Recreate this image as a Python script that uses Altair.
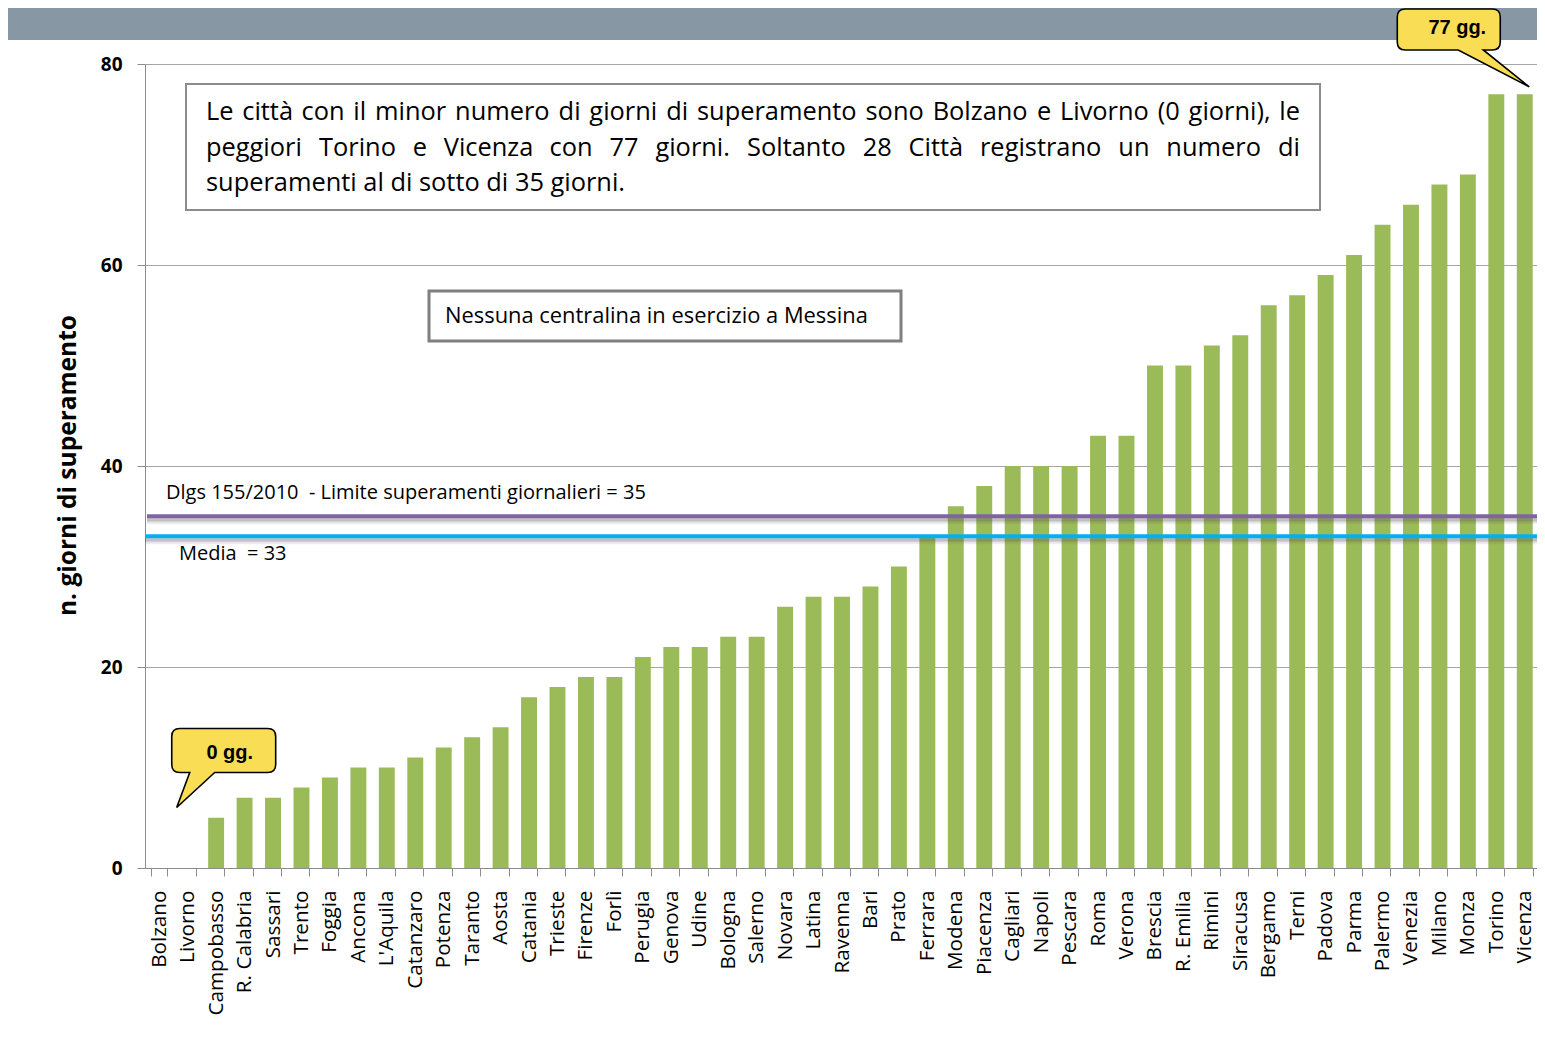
import altair as alt
import pandas as pd

cities = ["Bolzano", "Livorno", "Campobasso", "R. Calabria", "Sassari", "Trento", "Foggia",
          "Ancona", "L'Aquila", "Catanzaro", "Potenza", "Taranto", "Aosta", "Catania",
          "Trieste", "Firenze", "Forlì", "Perugia", "Genova", "Udine", "Bologna", "Salerno",
          "Novara", "Latina", "Ravenna", "Bari", "Prato", "Ferrara", "Modena", "Piacenza",
          "Cagliari", "Napoli", "Pescara", "Roma", "Verona", "Brescia", "R. Emilia", "Rimini",
          "Siracusa", "Bergamo", "Terni", "Padova", "Parma", "Palermo", "Venezia", "Milano",
          "Monza", "Torino", "Vicenza"]
days = [0, 0, 5, 7, 7, 8, 9, 10, 10, 11, 12, 13, 14, 17, 18, 19, 19, 21, 22, 22, 23, 23,
        26, 27, 27, 28, 30, 33, 36, 38, 40, 40, 40, 43, 43, 50, 50, 52, 53, 56, 57, 59, 61,
        64, 66, 68, 69, 77, 77]
limit_value = 35
mean_value = 33
limit_label = "Dlgs 155/2010 \u00a0- Limite superamenti giornalieri = 35"
mean_label = "Media \u00a0= 33"
note_lines = [
    "Le città con il minor numero di giorni di superamento sono Bolzano e Livorno (0 giorni), le",
    "peggiori Torino e Vicenza con 77 giorni. Soltanto 28 Città registrano un numero di",
    "superamenti al di sotto di 35 giorni.",
]
messina_note = "Nessuna centralina in esercizio a Messina"
y_title = "n. giorni di superamento"

W, H = 1394, 804
FONT = "Open Sans"

df = pd.DataFrame({"city": cities, "days": days})
one = pd.DataFrame({"k": [0]})

xenc = alt.X("city:N", sort=cities, title=None,
             scale=alt.Scale(paddingInner=0.44, paddingOuter=0.22),
             axis=alt.Axis(labelAngle=-90, labelFont=FONT, labelFontSize=20.7, labelColor="#000000",
                           labelPadding=14, tickSize=8, tickBand="extent", tickColor="#8C8C8C",
                           domainColor="#8C8C8C", labelLimit=300))
yscale = alt.Scale(domain=[0, 80], nice=False)

bars = alt.Chart(df).mark_bar(color="#9BBB59").encode(
    x=xenc,
    y=alt.Y("days:Q", scale=yscale, title=y_title,
            axis=alt.Axis(values=[0, 20, 40, 60, 80], labelFont=FONT, labelFontSize=19,
                          labelFontWeight="bold", labelColor="#000000", labelPadding=15,
                          tickSize=8, tickColor="#8C8C8C", domainColor="#8C8C8C",
                          gridColor="#A6A6A6", gridWidth=1,
                          titleFont=FONT, titleFontSize=24.5, titleFontWeight="bold",
                          titleColor="#000000", titleX=-77, titleY=H / 2 - 1,
                          titleAngle=270, titleAlign="center", titleBaseline="middle")),
)

band = alt.Chart(one).mark_rect(color="#8797A3").encode(
    x=alt.value(-137), x2=alt.value(W + 10), y=alt.value(-56), y2=alt.value(-24))


def rule(value, color, x0):
    layers = []
    for off, op in [(6, 0.10), (4, 0.18), (2.5, 0.22)]:
        layers.append(alt.Chart(one).mark_rule(color="#555555", strokeWidth=4, opacity=op,
                                               yOffset=off).encode(
            y=alt.datum(value), x=alt.value(x0), x2=alt.value(W)))
    layers.append(alt.Chart(one).mark_rule(color=color, strokeWidth=4).encode(
        y=alt.datum(value), x=alt.value(x0), x2=alt.value(W)))
    return layers


limit_rules = rule(limit_value, "#8064A2", 2)
mean_rules = rule(mean_value, "#00B0F0", 0)

limit_text = alt.Chart(one).mark_text(align="left", baseline="alphabetic", font=FONT,
                                      fontSize=20, color="#000000", dy=-17).encode(
    x=alt.value(21), y=alt.datum(limit_value), text=alt.value(limit_label))
mean_text = alt.Chart(one).mark_text(align="left", baseline="alphabetic", font=FONT,
                                     fontSize=20, color="#000000", dy=24).encode(
    x=alt.value(34), y=alt.datum(mean_value), text=alt.value(mean_label))

# --- note box with justified text (Open Sans advance widths, em units) ---
ADV = {" ": 0.260, "a": 0.556, "à": 0.556, "b": 0.613, "c": 0.476, "d": 0.613, "e": 0.561,
       "f": 0.339, "g": 0.548, "h": 0.614, "i": 0.253, "l": 0.253, "m": 0.930, "n": 0.614,
       "o": 0.604, "p": 0.613, "r": 0.408, "s": 0.477, "t": 0.353, "u": 0.614, "v": 0.501,
       "z": 0.468, ".": 0.266, ",": 0.250, "(": 0.297, ")": 0.297, "L": 0.520, "T": 0.537,
       "V": 0.575, "S": 0.550, "C": 0.631, "B": 0.663}
NOTE_FS = 25.4
TXT_X0, TXT_X1 = 61, 1155
baselines = [56, 92, 127]


def wwidth(w):
    return sum(ADV.get(ch, 0.572) for ch in w) * NOTE_FS


box1 = alt.Chart(one).mark_rect(fill="#FFFFFF", stroke="#8C8C8C", strokeWidth=2).encode(
    x=alt.value(41), x2=alt.value(1175), y=alt.value(20), y2=alt.value(146))

note_layers = []
for li, line in enumerate(note_lines):
    if li == len(note_lines) - 1:
        note_layers.append(alt.Chart(one).mark_text(
            align="left", baseline="alphabetic", font=FONT, fontSize=NOTE_FS, color="#000000").encode(
            x=alt.value(TXT_X0), y=alt.value(baselines[li]), text=alt.value(line)))
        continue
    words = line.split(" ")
    widths = [wwidth(w) for w in words]
    gap = (TXT_X1 - TXT_X0 - sum(widths)) / (len(words) - 1)
    xpos = TXT_X0
    for wi, (w, ww) in enumerate(zip(words, widths)):
        last = wi == len(words) - 1
        note_layers.append(alt.Chart(one).mark_text(
            align="right" if last else "left", baseline="alphabetic", font=FONT,
            fontSize=NOTE_FS, color="#000000").encode(
            x=alt.value(TXT_X1 if last else xpos), y=alt.value(baselines[li]), text=alt.value(w)))
        xpos += ww + gap

box2 = alt.Chart(one).mark_rect(fill="#FFFFFF", stroke="#7F7F7F", strokeWidth=3).encode(
    x=alt.value(284), x2=alt.value(756), y=alt.value(227), y2=alt.value(277))
box2_text = alt.Chart(one).mark_text(align="left", baseline="alphabetic", font=FONT,
                                     fontSize=21.9, color="#000000").encode(
    x=alt.value(300), y=alt.value(259), text=alt.value(messina_note))

call0_path = ("M -0.8,-0.709 L 0.8,-0.709 Q 0.945,-0.709 0.945,-0.564 L 0.945,-0.054 "
              "Q 0.945,0.091 0.8,0.091 L -0.164,0.091 L -0.855,0.727 L -0.618,0.091 "
              "L -0.8,0.091 Q -0.945,0.091 -0.945,-0.054 L -0.945,-0.564 Q -0.945,-0.709 -0.8,-0.709 Z")
call77_path = ("M -0.865,-0.552 L 0.432,-0.552 Q 0.552,-0.552 0.552,-0.432 L 0.552,-0.06 "
               "Q 0.552,0.06 0.432,0.06 L 0.299,0.06 L 0.985,0.612 L -0.075,0.06 "
               "L -0.865,0.06 Q -0.985,0.06 -0.985,-0.06 L -0.985,-0.432 Q -0.985,-0.552 -0.865,-0.552 Z")

call0 = alt.Chart(one).mark_point(shape=call0_path, size=110 ** 2, filled=True, fill="#F9DE55",
                                  stroke="#000000", strokeWidth=1.6, opacity=1, xOffset=7.6).encode(
    x=alt.datum("Campobasso"), y=alt.datum(10))
call0_text = alt.Chart(one).mark_text(font="Liberation Sans", fontSize=20, fontWeight="bold",
                                      color="#000000", dx=13.6, dy=-15).encode(
    x=alt.datum("Campobasso"), y=alt.datum(10), text=alt.value("0 gg."))

call77 = alt.Chart(one).mark_point(shape=call77_path, size=134 ** 2, filled=True, fill="#F9DE55",
                                   stroke="#000000", strokeWidth=1.6, opacity=1, xOffset=-4.6).encode(
    x=alt.datum("Monza"), y=alt.datum(81.8))
call77_text = alt.Chart(one).mark_text(font="Liberation Sans", fontSize=20, fontWeight="bold",
                                       color="#000000", dx=-10.6, dy=-18).encode(
    x=alt.datum("Monza"), y=alt.datum(81.8), text=alt.value("77 gg."))

chart = alt.layer(
    band, bars, *limit_rules, *mean_rules, limit_text, mean_text,
    box1, *note_layers, box2, box2_text, call0, call0_text, call77, call77_text
).properties(
    width=W, height=H,
    autosize=alt.AutoSizeParams(type="none"),
    padding={"left": 137, "top": 56, "right": -2, "bottom": 158},
    background="#FFFFFF",
).configure_view(stroke=None)

chart.save("out.html", embed_options={"renderer": "svg", "actions": False})
